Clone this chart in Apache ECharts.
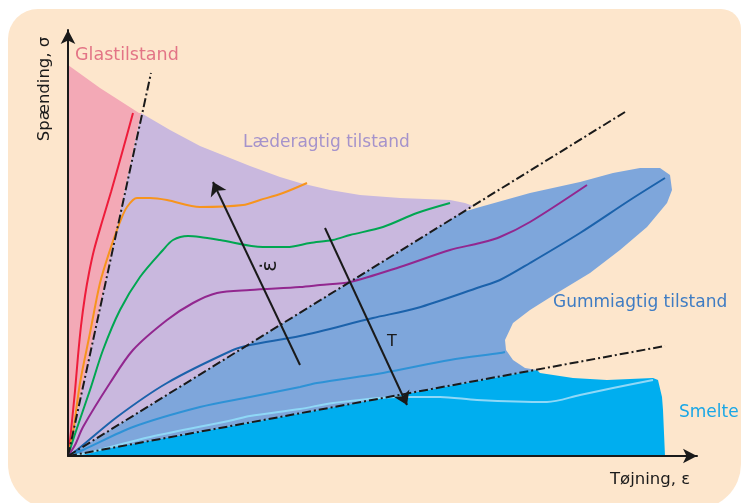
<!DOCTYPE html>
<html><head><meta charset="utf-8">
<script src="https://cdn.jsdelivr.net/npm/echarts@6/dist/echarts.min.js"></script>
<style>html,body{margin:0;padding:0;background:#fff}#c{width:741px;height:503px}</style>
</head><body><div id="c"></div>
<script>
// Schematic values (strain on x, stress on y)
const glassRegion = [[0,0],[0,391],[32,368],[71,343],[73,343]];
const leatherRegion = [[0,0],[73,343],[102,326],[132,310],[162,298],[182,290],[212,279],[232,273],[262,266],[292,261],[332,258],[382,256],[397,253],[405,250],[402,248]];
const rubberRegion = [[0,0],[395,244],[412,249],[462,263],[512,274],[545,283],[572,288],[592,288],[602,281],[604,266],[599,253],[579,229],[552,206],[522,183],[489,163],[462,146],[445,133],[437,116],[438,106],[445,96],[457,88],[469,86]];
const meltRegion = [[0,0],[469,86],[472,83],[505,78],[539,76],[585,78],[590,76],[594,59],[595,46],[597,0]];

const redCurve = [[0,0],[2,15],[4,35],[7,65],[10,100],[13,130],[17,160],[21,183],[26,206],[34,234],[43,264],[54,303],[65,343]];
const orangeCurve = [[0,0],[5,23],[12,73],[22,123],[32,173],[42,206],[52,234],[59,249],[69,258],[82,258],[99,256],[132,249],[175,251],[192,256],[215,263],[239,273]];
const greenCurve = [[0,0],[8,25],[22,66],[35,106],[52,146],[72,179],[95,206],[105,216],[120,220],[132,219],[152,216],[195,209],[219,209],[242,213],[265,216],[282,221],[315,229],[349,243],[382,253]];
const purpleCurve = [[0,0],[7,11],[15,29],[42,73],[65,106],[99,136],[125,153],[149,163],[182,166],[232,169],[252,171],[282,174],[332,189],[382,206],[412,213],[432,219],[462,234],[519,271]];
const darkBlueCurve = [[0,0],[9,6],[49,39],[99,73],[165,106],[182,111],[232,120],[305,138],[349,148],[412,169],[432,176],[462,193],[512,223],[562,256],[597,278]];
const midBlueCurve = [[0,0],[15,6],[65,29],[132,49],[182,59],[232,69],[249,73],[315,83],[382,96],[432,103],[437,104]];
const lightCurve = [[0,0],[19,3],[82,19],[165,36],[182,40],[232,47],[265,53],[332,59],[372,59],[409,56],[479,54],[512,61],[545,68],[585,76]];

const boundary1 = [[0,0],[83,383]];
const boundary2 = [[0,0],[557,344]];
const boundary3 = [[0,0],[597,110]];

const rateArrow = [[232,91],[145,274]];
const tempArrow = [[257,228],[339,51]];

const chart = echarts.init(document.getElementById('c'));

function region(data, color) {
  return {
    type: 'custom', data: data, z: 1, silent: true,
    renderItem: function (params, api) {
      if (params.dataIndex !== 0) return;
      const pts = data.map(p => api.coord(p));
      return { type: 'polygon', shape: { points: pts }, style: { fill: color } };
    }
  };
}
function curve(data, color) {
  return { type: 'line', data: data, smooth: 0.3, symbol: 'none', z: 3,
    lineStyle: { color: color, width: 2 } };
}
function dashLine(data) {
  return { type: 'line', data: data, symbol: 'none', z: 4,
    lineStyle: { color: '#1a1a1a', width: 2, type: [9, 3, 2, 3] } };
}
function arrow(data) {
  return { type: 'lines', coordinateSystem: 'cartesian2d', z: 5, silent: true,
    symbol: ['none', 'arrow'], symbolSize: 13,
    data: [{ coords: data }],
    lineStyle: { color: '#1a1a1a', width: 2, opacity: 1 } };
}

const font = 'DejaVu Sans';
chart.setOption({
  animation: false,
  backgroundColor: '#ffffff',
  grid: { left: 68, top: 30, width: 629, height: 426 },
  xAxis: { type: 'value', min: 0, max: 629, z: 10,
    axisLine: { show: true, symbol: ['none', 'arrow'], symbolSize: [11, 14], lineStyle: { color: '#1a1a1a', width: 2 } },
    axisTick: { show: false }, axisLabel: { show: false }, splitLine: { show: false } },
  yAxis: { type: 'value', min: 0, max: 426, z: 10,
    axisLine: { show: true, symbol: ['none', 'arrow'], symbolSize: [11, 14], lineStyle: { color: '#1a1a1a', width: 2 } },
    axisTick: { show: false }, axisLabel: { show: false }, splitLine: { show: false } },
  graphic: [
    { type: 'rect', z: -10, silent: true, shape: { x: 8, y: 9, width: 733, height: 500, r: [30, 20, 45, 45] }, style: { fill: '#FDE6CC' } },
    { type: 'text', z: 100, x: 75, y: 55, style: { text: 'Glastilstand', font: '17.5px "' + font + '"', fill: '#E37486', textVerticalAlign: 'middle' } },
    { type: 'text', z: 100, x: 243, y: 143, style: { text: 'Læderagtig tilstand', font: '17px "' + font + '"', fill: '#A593CB', textVerticalAlign: 'middle' } },
    { type: 'text', z: 100, x: 553, y: 303, style: { text: 'Gummiagtig tilstand', font: '17px "' + font + '"', fill: '#3F7CC3', textVerticalAlign: 'middle' } },
    { type: 'text', z: 100, x: 679, y: 413, style: { text: 'Smelte', font: '17px "' + font + '"', fill: '#1AA7E6', textVerticalAlign: 'middle' } },
    { type: 'text', z: 100, x: 610, y: 480, style: { text: 'Tøjning, ε', font: '16.5px "' + font + '"', fill: '#1a1a1a', textVerticalAlign: 'middle' } },
    { type: 'text', z: 100, x: 45, y: 89, rotation: Math.PI / 2, style: { text: 'Spænding, σ', font: '16.5px "' + font + '"', fill: '#1a1a1a', textAlign: 'center', textVerticalAlign: 'middle' } },
    { type: 'text', z: 100, x: 271, y: 266, rotation: Math.PI / 2, style: { text: 'ε̇', font: '21px "' + font + '"', fill: '#1a1a1a', textAlign: 'center', textVerticalAlign: 'middle' } },
    { type: 'text', z: 100, x: 392, y: 342, style: { text: 'T', font: '16px "' + font + '"', fill: '#1a1a1a', textAlign: 'center', textVerticalAlign: 'middle' } }
  ],
  series: [
    region(leatherRegion, '#C9B8DE'),
    region(glassRegion, '#F3A9B6'),
    region(rubberRegion, '#7EA6DB'),
    region(meltRegion, '#00AEEF'),
    curve(redCurve, '#EE1C3A'),
    curve(orangeCurve, '#F7941D'),
    curve(greenCurve, '#00A651'),
    curve(purpleCurve, '#92278F'),
    curve(darkBlueCurve, '#1B62AB'),
    curve(midBlueCurve, '#2E92D6'),
    curve(lightCurve, '#8FD8F7'),
    dashLine(boundary1),
    dashLine(boundary2),
    dashLine(boundary3),
    arrow(rateArrow),
    arrow(tempArrow)
  ]
});
</script></body></html>
